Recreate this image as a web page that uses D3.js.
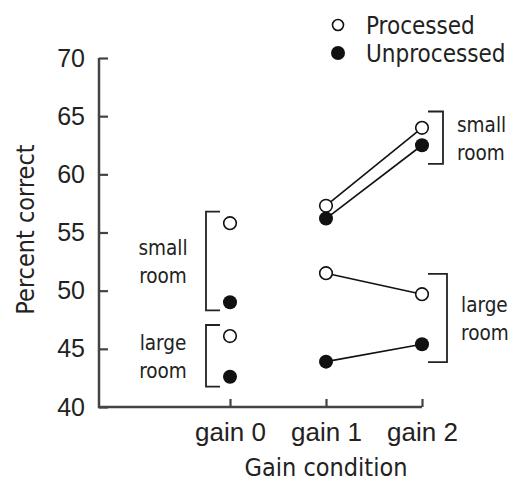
<!DOCTYPE html>
<html>
<head>
<meta charset="utf-8">
<script src="https://cdn.jsdelivr.net/npm/d3@7"></script>
<style>
	body { margin: 0; background: #fff; }
	svg { display: block; font-family: "DejaVu Sans Condensed", "DejaVu Sans", sans-serif; font-stretch: condensed; }
</style>
</head>
<body>
<svg id="chart" width="515" height="484"></svg>
<script>
// Data
const gains = ["gain 0", "gain 1", "gain 2"];
const yTicks = [40, 45, 50, 55, 60, 65, 70];

// values per gain (percent correct)
const smallProcessed = [55.8, 57.3, 64.0];
const smallUnprocessed = [49.0, 56.2, 62.5];
const largeProcessed = [46.1, 51.5, 49.7];
const largeUnprocessed = [42.6, 43.9, 45.4];

// room brackets: gain, side, span in percent
const bracketGains = ["gain 0", "gain 0", "gain 2", "gain 2"];
const bracketLabels = [["small", "room"], ["large", "room"], ["small", "room"], ["large", "room"]];
const bracketSpans = [[48.3, 56.8], [41.75, 47.05], [60.9, 65.4], [43.85, 51.45]];

const svg = d3.select("#chart");
const ink = "#222";

// Scales
const y = d3.scaleLinear().domain([40, 70]).range([407, 58]);
const x = d3.scalePoint().domain(gains).range([230, 422]);
const left = 99;

// Axes
const yAxis = svg.append("g")
	.attr("transform", `translate(${left},0)`)
	.call(d3.axisLeft(y).tickValues(yTicks).tickSizeInner(-9).tickSizeOuter(0).tickPadding(14));
yAxis.select(".domain").remove();
yAxis.selectAll(".tick line").attr("stroke", "#444").attr("stroke-width", 2.2);
yAxis.selectAll("text").style("font-size", "25px").attr("fill", ink);

const xAxis = svg.append("g")
	.attr("transform", `translate(0,${y(40)})`)
	.call(d3.axisBottom(x).tickSizeInner(-8).tickSizeOuter(0).tickPadding(16));
xAxis.select(".domain").remove();
xAxis.selectAll(".tick line").attr("stroke", "#444").attr("stroke-width", 2.2);
xAxis.selectAll("text").style("font-size", "26px").attr("fill", ink);

// axis lines
svg.append("path")
	.attr("d", `M${left},${y(70)}V${y(40)}H${x("gain 2")}`)
	.attr("fill", "none")
	.attr("stroke", "#444")
	.attr("stroke-width", 2.5);

// Axis titles
svg.append("text")
	.attr("x", x("gain 1"))
	.attr("y", 476)
	.attr("text-anchor", "middle")
	.style("font-size", "25px")
	.attr("fill", ink)
	.text("Gain condition");

svg.append("text")
	.attr("transform", `translate(34,${y(55) - 3}) rotate(-90)`)
	.attr("text-anchor", "middle")
	.style("font-size", "25px")
	.attr("fill", ink)
	.text("Percent correct");

// Lines between gain 1 and gain 2
const series = [
	{ values: smallProcessed, open: true },
	{ values: smallUnprocessed, open: false },
	{ values: largeProcessed, open: true },
	{ values: largeUnprocessed, open: false }
];

const line = d3.line()
	.x(d => x(d.g))
	.y(d => y(d.v));

svg.append("g")
	.selectAll("path")
	.data(series)
	.join("path")
	.attr("d", s => line(gains.slice(1).map((g, i) => ({ g: g, v: s.values[i + 1] }))))
	.attr("fill", "none")
	.attr("stroke", "#111")
	.attr("stroke-width", 1.6);

// Points
const points = [];
series.forEach(s => {
	s.values.forEach((v, i) => points.push({ g: gains[i], v: v, open: s.open }));
});

svg.append("g")
	.selectAll("circle")
	.data(points)
	.join("circle")
	.attr("cx", d => x(d.g))
	.attr("cy", d => y(d.v))
	.attr("r", d => d.open ? 6.3 : 7)
	.attr("fill", d => d.open ? "#fff" : "#111")
	.attr("stroke", "#111")
	.attr("stroke-width", d => d.open ? 1.6 : 0);

// Brackets
bracketSpans.forEach((span, i) => {
	const g = bracketGains[i];
	const onLeft = g === "gain 0";
	const cx = x(g);
	const vx = onLeft ? cx - 24 : cx + (i === 2 ? 21 : 25);
	const ex = onLeft ? cx - 10 : cx + 6;
	const top = y(span[1]);
	const bot = y(span[0]);

	svg.append("path")
		.attr("d", `M${ex},${top}H${vx}V${bot}H${ex}`)
		.attr("fill", "none")
		.attr("stroke", "#222")
		.attr("stroke-width", 1.8);

	const mid = (top + bot) / 2;
	const lab = svg.append("text")
		.attr("text-anchor", onLeft ? "middle" : "start")
		.style("font-size", "20.5px")
		.attr("fill", ink);
	bracketLabels[i].forEach((t, k) => {
		lab.append("tspan")
			.attr("x", onLeft ? 163 : vx + 14)
			.attr("y", mid + (k === 0 ? -6 : 22))
			.text(t);
	});
});

// Legend
const legendNames = ["Processed", "Unprocessed"];
const legendOpen = [true, false];
const legend = svg.append("g");
legend.selectAll("circle")
	.data(legendNames)
	.join("circle")
	.attr("cx", 338)
	.attr("cy", (d, i) => 25 + i * 28)
	.attr("r", (d, i) => legendOpen[i] ? 5.5 : 7)
	.attr("fill", (d, i) => legendOpen[i] ? "#fff" : "#111")
	.attr("stroke", "#111")
	.attr("stroke-width", (d, i) => legendOpen[i] ? 1.6 : 0);
legend.selectAll("text")
	.data(legendNames)
	.join("text")
	.attr("x", 366)
	.attr("y", (d, i) => 25 + i * 28)
	.attr("dy", "0.36em")
	.style("font-size", "24px")
	.attr("fill", ink)
	.text(d => d);
</script>
</body>
</html>
